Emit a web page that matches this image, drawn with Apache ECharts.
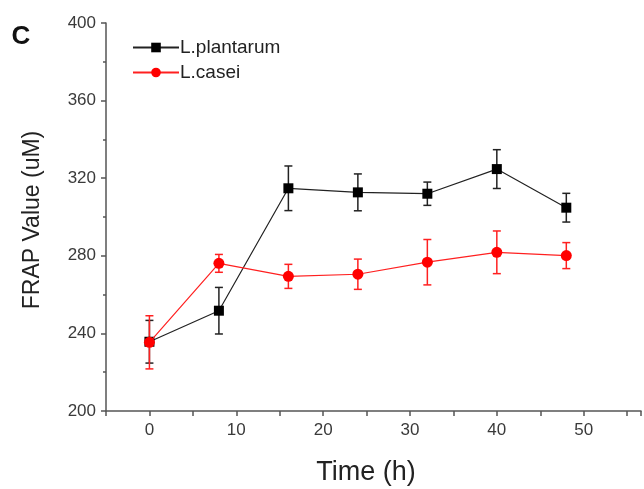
<!DOCTYPE html>
<html><head><meta charset="utf-8">
<script src="https://cdn.jsdelivr.net/npm/echarts@6/dist/echarts.min.js"></script>
<style>html,body{margin:0;padding:0;background:#fff}#c{width:644px;height:489px}</style>
</head><body><div id="c"></div>
<script>
var times = [0, 8, 16, 24, 32, 40, 48];
var plantarumMean = [235.7, 251.7, 314.8, 312.7, 312.0, 324.7, 304.8];
var plantarumErr  = [11, 12, 11.5, 9.5, 6, 10, 7.4];
var caseiMean = [235.4, 276.1, 269.4, 270.5, 276.7, 281.8, 280.1];
var caseiErr  = [13.7, 4.6, 6.2, 7.8, 11.7, 11, 6.7];
var yTicks = [200, 240, 280, 320, 360, 400];
var xTicks = [0, 10, 20, 30, 40, 50];

function pts(m){ return times.map(function(t,i){return [t, m[i]];}); }
function errData(m,e){ return times.map(function(t,i){return [t, m[i]-e[i], m[i]+e[i]];}); }
function errSeries(m,e,color){
  return {
    type:'custom', silent:true, z:3,
    data: errData(m,e),
    renderItem: function(params, api){
      var lo = api.coord([api.value(0), api.value(1)]);
      var hi = api.coord([api.value(0), api.value(2)]);
      var w = 4;
      var st = {stroke: color, lineWidth: 1.5};
      return {type:'group', children:[
        {type:'line', shape:{x1:lo[0],y1:lo[1],x2:hi[0],y2:hi[1]}, style:st},
        {type:'line', shape:{x1:lo[0]-w,y1:lo[1],x2:lo[0]+w,y2:lo[1]}, style:st},
        {type:'line', shape:{x1:hi[0]-w,y1:hi[1],x2:hi[0]+w,y2:hi[1]}, style:st}
      ]};
    }
  };
}
var chart = echarts.init(document.getElementById('c'), null, {renderer:'canvas'});
var axisCol = '#555';
var ff = 'Liberation Sans, Arial, sans-serif';
chart.setOption({
  animation:false,
  backgroundColor:'#fff',
  grid:{left:106, top:23, right:0, bottom:78, containLabel:false},
  legend:{
    orient:'vertical', left:132, top:38, padding:0, itemGap:6,
    itemWidth:46, itemHeight:12,
    textStyle:{fontFamily:ff, fontSize:19, color:'#222', padding:[0,0,0,-4]},
    data:['L.plantarum','L.casei']
  },
  xAxis:{
    type:'value', min:-5, max:56.6, interval:5,
    axisLine:{onZero:false, lineStyle:{color:axisCol, width:1.5}},
    axisTick:{show:true, inside:false, length:5, lineStyle:{color:axisCol, width:1.5}},
    splitLine:{show:false},
    axisLabel:{fontFamily:ff, fontSize:17, color:'#3a3a3a', margin:11,
      formatter:function(v){ return xTicks.indexOf(v) >= 0 ? String(v) : ''; }}
  },
  yAxis:{
    type:'value', min:200, max:400, interval:40,
    axisLine:{show:true, onZero:false, lineStyle:{color:axisCol, width:1.5}},
    axisTick:{show:true, inside:false, length:5, lineStyle:{color:axisCol, width:1.5}},
    minorTick:{show:true, splitNumber:2, length:3, lineStyle:{color:axisCol, width:1.5}},
    splitLine:{show:false},
    axisLabel:{fontFamily:ff, fontSize:17, color:'#3a3a3a', margin:10,
      formatter:function(v){ return yTicks.indexOf(v) >= 0 ? String(v) : ''; }}
  },
  graphic:[
    {type:'text', x:21, y:37, style:{text:'C', font:'bold 26px '+ff, fill:'#111', align:'center', verticalAlign:'middle'}},
    {type:'text', x:366, y:473, style:{text:'Time (h)', font:'27px '+ff, fill:'#222', align:'center', verticalAlign:'middle'}},
    {type:'text', x:33, y:220, rotation:Math.PI/2, style:{text:'FRAP Value (uM)', font:'23px '+ff, fill:'#222', align:'center', verticalAlign:'middle'}}
  ],
  series:[
    errSeries(plantarumMean, plantarumErr, '#222'),
    {name:'L.plantarum', type:'line', data:pts(plantarumMean), z:4,
     symbol:'rect', symbolSize:10, lineStyle:{color:'#222', width:1.2},
     itemStyle:{color:'#000'}},
    errSeries(caseiMean, caseiErr, '#ff2020'),
    {name:'L.casei', type:'line', data:pts(caseiMean), z:5,
     symbol:'circle', symbolSize:11, lineStyle:{color:'#ff2020', width:1.2},
     itemStyle:{color:'#ff0000'}}
  ]
});
</script></body></html>
